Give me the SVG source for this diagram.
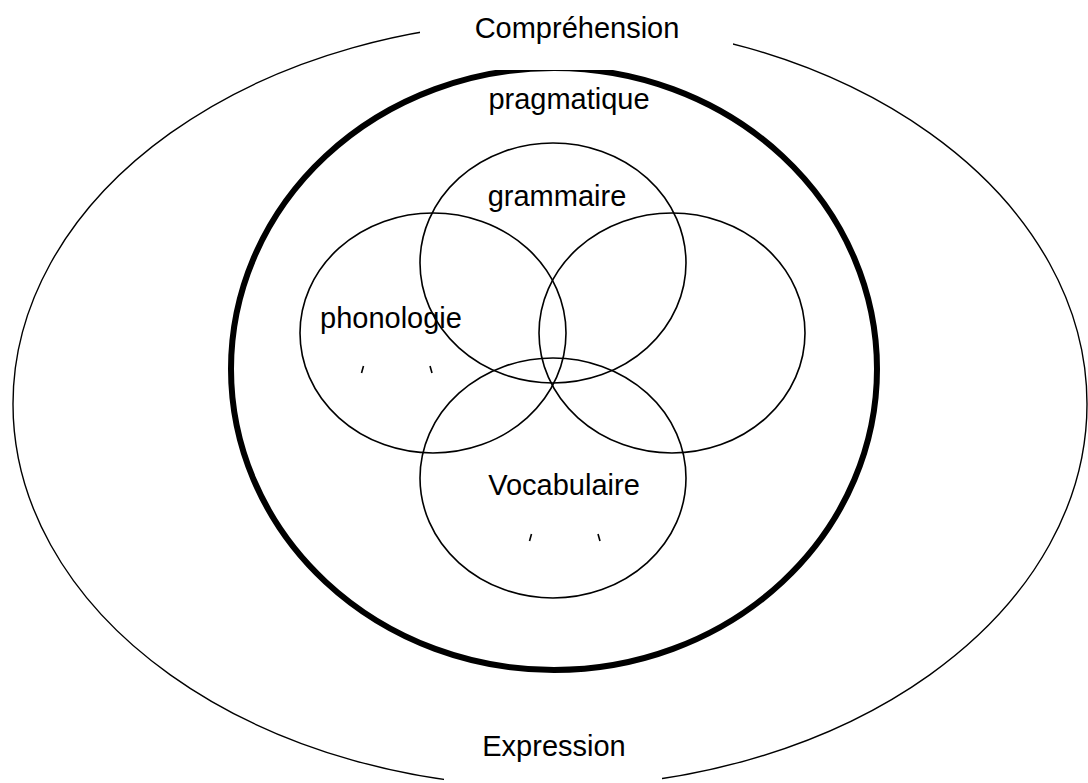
<svg xmlns="http://www.w3.org/2000/svg" width="1088" height="783" viewBox="0 0 1088 783">
  <style>
    .bg { fill: #ffffff; }
    .outer { fill: none; stroke: #000; stroke-width: 1.4; }
    .thick { fill: none; stroke: #000; stroke-width: 6; }
    .circle { fill: none; stroke: #000; stroke-width: 1.6; }
    .mask { fill: #ffffff; stroke: none; }
    .tick { stroke: #000; stroke-width: 1.6; stroke-linecap: butt; }
    .label { font-family: "Liberation Sans", Arial, sans-serif; font-size: 29px; fill: #000; text-anchor: middle; }
  </style>
  <rect class="bg" x="0" y="0" width="1088" height="783"/>

  <g id="expression-comprehension">
    <ellipse class="outer" cx="550" cy="404" rx="537" ry="383"/>
  </g>

  <g id="pragmatique">
    <ellipse class="thick" cx="554" cy="369" rx="323" ry="301"/>
  </g>

  <g id="label-masks">
    <rect class="mask" x="420" y="0" width="313" height="70"/>
    <rect class="mask" x="444" y="718" width="218" height="65"/>
  </g>

  <g id="grammaire">
    <ellipse class="circle" cx="553" cy="263" rx="133" ry="120"/>
  </g>
  <g id="phonologie">
    <ellipse class="circle" cx="433" cy="333" rx="133" ry="120"/>
    <line class="tick" x1="363.5" y1="366" x2="361.5" y2="373"/>
    <line class="tick" x1="430" y1="366" x2="432" y2="373"/>
  </g>
  <g id="right-circle">
    <ellipse class="circle" cx="672" cy="333" rx="133" ry="120"/>
  </g>
  <g id="vocabulaire">
    <ellipse class="circle" cx="553" cy="478" rx="133" ry="120"/>
    <line class="tick" x1="531.5" y1="534" x2="529.5" y2="541"/>
    <line class="tick" x1="598" y1="534" x2="600" y2="541"/>
  </g>

  <g id="connectors"></g>

  <g id="labels">
    <text class="label" x="577" y="38">Compréhension</text>
    <text class="label" x="569" y="109">pragmatique</text>
    <text class="label" x="557" y="206">grammaire</text>
    <text class="label" x="391" y="328">phonologie</text>
    <text class="label" x="564" y="495">Vocabulaire</text>
    <text class="label" x="554" y="756">Expression</text>
  </g>
</svg>
